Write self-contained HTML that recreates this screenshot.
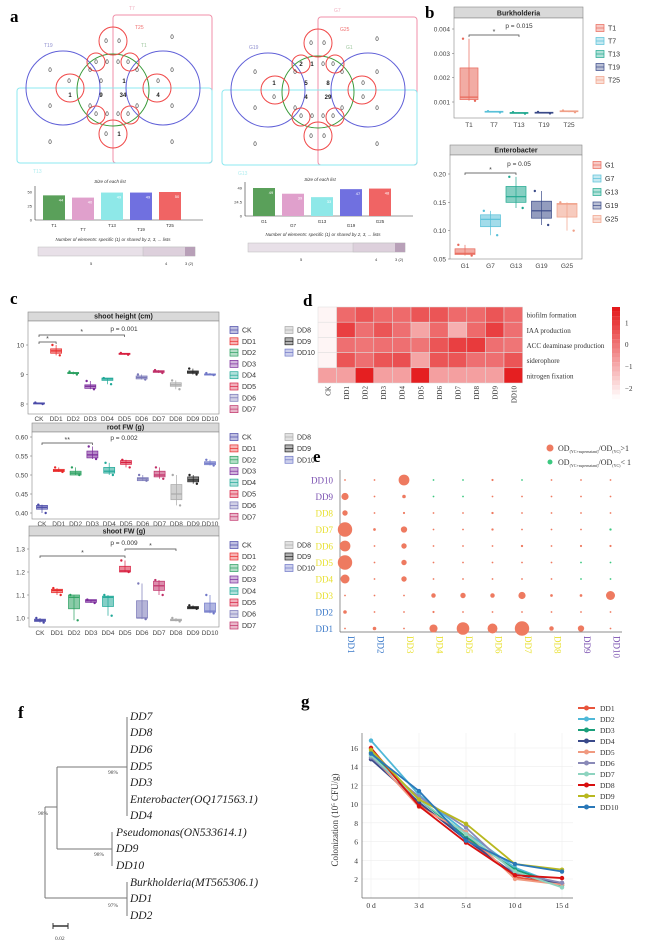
<!DOCTYPE html>
<html><head><meta charset="utf-8">
<style>
html,body{margin:0;padding:0;background:#fff;}
svg{display:block;}
.sans{font-family:"Liberation Sans",sans-serif;}
.serif{font-family:"Liberation Serif",serif;}
</style></head>
<body>
<svg id="fig" width="666" height="942" viewBox="0 0 666 942" xmlns="http://www.w3.org/2000/svg">
<g class="serif" font-weight="bold" font-size="17">
<text x="10" y="22">a</text>
<text x="425" y="18">b</text>
<text x="10" y="304">c</text>
<text x="303" y="306">d</text>
<text x="313" y="462">e</text>
<text x="18" y="718">f</text>
<text x="301" y="707">g</text>
</g>
<!-- tree panel f -->
<g stroke="#777" stroke-width="1" fill="none">
<line x1="127" y1="717" x2="127" y2="816"/>
<line x1="57" y1="767" x2="127" y2="767"/>
<line x1="112" y1="832" x2="112" y2="866"/>
<line x1="57" y1="849" x2="112" y2="849"/>
<line x1="57" y1="767" x2="57" y2="849"/>
<line x1="45" y1="807" x2="57" y2="807"/>
<line x1="127" y1="882" x2="127" y2="916"/>
<line x1="45" y1="898" x2="127" y2="898"/>
<line x1="45" y1="807" x2="45" y2="898"/>
<line x1="53" y1="926" x2="68" y2="926" stroke="#333" stroke-width="1.5"/>
<line x1="53" y1="923" x2="53" y2="929" stroke="#333"/>
<line x1="68" y1="923" x2="68" y2="929" stroke="#333"/>
</g>
<g class="serif" font-style="italic" font-size="11.5" fill="#222">
<text x="130" y="720">DD7</text><text x="130" y="736">DD8</text><text x="130" y="753">DD6</text>
<text x="130" y="770">DD5</text><text x="130" y="786">DD3</text>
<text x="130" y="803">Enterobacter(OQ171563.1)</text><text x="130" y="819">DD4</text>
<text x="116" y="836">Pseudomonas(ON533614.1)</text><text x="116" y="852">DD9</text><text x="116" y="869">DD10</text>
<text x="130" y="886">Burkholderia(MT565306.1)</text><text x="130" y="902">DD1</text><text x="130" y="919">DD2</text>
</g>
<g class="serif" font-size="5.5" fill="#444">
<text x="108" y="774">98%</text><text x="38" y="815">98%</text><text x="94" y="856">98%</text><text x="108" y="907">97%</text>
<text x="55" y="940">0.02</text>
</g>
</svg>
<script>
const NS='http://www.w3.org/2000/svg';
const svg=document.getElementById('fig');
function mk(tag,attrs,parent){const e=document.createElementNS(NS,tag);for(const k in attrs)e.setAttribute(k,attrs[k]);(parent||svg).appendChild(e);return e;}
function tx(x,y,s,attrs,parent){const e=mk('text',Object.assign({x:x,y:y},attrs||{}),parent);e.textContent=s;return e;}

// ---------- Panel a: Venn data ----------
const vennNumsT=[["0",106,41],["0",119,41],["0",96,62],["0",107,62],["0",118,62],["0",128,62],["0",90,70],["0",137,70],["0",50,70],["0",172,70],["0",69,81],["0",101,81],["1",124,81],["0",158,81],["1",70,95],["9",101,95],["34",123,95],["4",158,95],["0",50,106],["0",90,106],["0",137,106],["0",172,106],["0",96,114],["0",107,114],["0",118,114],["0",128,114],["0",106,134],["1",119,134],["0",172,37],["0",50,142],["0",172,142]];
const vennNumsG=[["0",106,41],["0",119,41],["2",96,62],["1",107,62],["0",118,62],["0",128,62],["0",90,70],["0",137,70],["0",50,70],["0",172,70],["1",69,81],["5",101,81],["8",123,81],["0",158,81],["0",69,95],["4",101,95],["29",123,95],["0",158,95],["0",50,106],["0",90,106],["0",137,106],["0",172,106],["0",96,114],["0",107,114],["0",118,114],["0",128,114],["0",106,134],["0",119,134],["0",172,37],["0",50,142],["0",172,142]];
const setLabelsT=["T7","T25","T19","T1","T13"];
const setLabelsG=["G7","G25","G19","G1","G13"];
const listSizesT=[44,40,49,49,50];
const listSizesG=[49,39,33,47,48];
const barCatsT=["T1","T7","T13","T19","T25"];
const barCatsG=["G1","G7","G13","G19","G25"];
const barColors=["#5aa05a","#e0a0cc","#8ee8e8","#7070e0","#f06464"];

function venn(dx,dy,nums,labs,name){
  const g=mk('g',{transform:`translate(${dx},${dy})`,class:'sans'});
  
  
  mk('rect',{x:113,y:15,width:99,height:148,rx:3,fill:'none',stroke:'#f08fa8','stroke-width':1},g);
  mk('rect',{x:17,y:88,width:195,height:75,rx:3,fill:'none',stroke:'#8ee8f0','stroke-width':1},g);
  mk('circle',{cx:63,cy:88,r:37,fill:'none',stroke:'#6060d8','stroke-width':1},g);
  mk('circle',{cx:163,cy:88,r:37,fill:'none',stroke:'#6060d8','stroke-width':1},g);
  mk('circle',{cx:113,cy:90,r:36,fill:'none',stroke:'#3a9a3a','stroke-width':1},g);
  [[113,41,14],[113,134,14],[70,88,14],[157,88,14],[96,62,9],[130,62,9],[96,115,9],[130,115,9]].forEach(c=>mk('circle',{cx:c[0],cy:c[1],r:c[2],fill:'none',stroke:'#f04848','stroke-width':1},g));
  nums.forEach(n=>tx(n[1],n[2]+2,n[0],{'font-size':6,'text-anchor':'middle','font-weight':n[0]!=='0'?'bold':'normal',fill:'#222'},g));
  const lp=[[129,10,'#f0b0c0'],[135,29,'#f07070'],[44,47,'#9090d0'],[141,47,'#a0c8a0'],[33,173,'#b0eef0']];
  labs.forEach((l,i)=>tx(lp[i][0],lp[i][1],l,{'font-size':5,fill:lp[i][2]},g));
}
venn(0,0,vennNumsT,setLabelsT,'venn-diagram-t');
venn(205,2,vennNumsG,setLabelsG,'venn-diagram-g');

function sizeBars(x0,base,cats,vals,maxV,ticks,name,ttlY,capY,grayY){
  const g=mk('g',{class:'sans'});
  
  
  const h=28, yS=v=>base-v/maxV*h;
  tx(x0+75,ttlY,'Size of each list',{'font-size':4.5,'font-style':'italic','text-anchor':'middle',fill:'#333'},g);
  mk('line',{x1:x0,y1:base,x2:x0+168,y2:base,stroke:'#333','stroke-width':0.6},g);
  mk('line',{x1:x0,y1:base,x2:x0,y2:base-h-6,stroke:'#333','stroke-width':0.6},g);
  ticks.forEach(t=>tx(x0-3,yS(t)+1.5,String(t),{'font-size':4,'text-anchor':'end',fill:'#333'},g));
  cats.forEach((c,i)=>{
    const bx=x0+8+i*29;
    const r=mk('rect',{x:bx,y:yS(vals[i]),width:22,height:base-yS(vals[i]),fill:barColors[i]},g);
    
    
    tx(bx+18,yS(vals[i])+6,String(vals[i]),{'font-size':4,'text-anchor':'middle',fill:'#fff'},g);
    tx(bx+11,base+7+(i%2)*4,c,{'font-size':4.5,'text-anchor':'middle',fill:'#333'},g);
  });
  tx(x0+78,capY,'Number of elements: specific (1) or shared by 2, 3, ... lists',{'font-size':4.5,'font-style':'italic','text-anchor':'middle',fill:'#333'},g);
  mk('rect',{x:x0+3,y:grayY,width:157,height:9,fill:'#e8e0e8',stroke:'#bbb','stroke-width':0.5},g);
  mk('rect',{x:x0+108,y:grayY,width:52,height:9,fill:'#ddd0dc',stroke:'#bbb','stroke-width':0.5},g);
  mk('rect',{x:x0+150,y:grayY,width:10,height:9,fill:'#b8a0b8'},g);
  tx(x0+55,grayY+18,'5',{'font-size':4,fill:'#333'},g);tx(x0+130,grayY+18,'4',{'font-size':4,fill:'#333'},g);tx(x0+150,grayY+18,'3 (2)',{'font-size':4,fill:'#333'},g);
}
sizeBars(35,220,barCatsT,listSizesT,50,[0,25,50],'list-size-chart-t',183,241,247);
sizeBars(245,216,barCatsG,listSizesG,49,[0,24.5,49],'list-size-chart-g',181,236,243);

// ---------- Box plot helper ----------
function boxPanel(o){
  const g=mk('g',{class:'sans'});
  
  
  const yS=v=>o.yTop+(o.vTop-v)/(o.vTop-o.vBot)*(o.yBot-o.yTop);
  const xS=i=>o.x0+i*o.step;
  const strip=mk('rect',{x:o.left,y:o.stripY,width:o.right-o.left,height:o.yTopPanel-o.stripY,fill:'#d9d9d9',stroke:'#888','stroke-width':0.6},g);
  tx((o.left+o.right)/2,o.yTopPanel-2.5,o.title,{'font-size':7,'font-weight':'bold','text-anchor':'middle',fill:'#222'},g);
  mk('rect',{x:o.left,y:o.yTopPanel,width:o.right-o.left,height:o.panelBot-o.yTopPanel,fill:'#fff',stroke:'#888','stroke-width':0.6},g);
  o.ticks.forEach(t=>{tx(o.left-4,yS(t)+2.5,o.tickFmt(t),{'font-size':6.5,'text-anchor':'end',fill:'#444'},g);mk('line',{x1:o.left-2,y1:yS(t),x2:o.left,y2:yS(t),stroke:'#666','stroke-width':0.5},g);});
  o.cats.forEach((c,i)=>{
    const x=xS(i),col=o.colors[i],w=o.bw;
    mk('line',{x1:x,y1:yS(o.mn[i]),x2:x,y2:yS(o.mx[i]),stroke:col,'stroke-width':0.7},g);
    const b=mk('rect',{x:x-w/2,y:yS(o.q3[i]),width:w,height:Math.max(1,yS(o.q1[i])-yS(o.q3[i])),fill:col,'fill-opacity':0.55,stroke:col,'stroke-width':0.7},g);
    
    
    mk('line',{x1:x-w/2,y1:yS(o.md[i]),x2:x+w/2,y2:yS(o.md[i]),stroke:col,'stroke-width':1.2},g);
    mk('circle',{cx:x-w/3,cy:yS(o.mx[i]),r:1.2,fill:col},g);
    mk('circle',{cx:x+w/3,cy:yS(o.mn[i]),r:1.2,fill:col},g);
    tx(x,o.labY,c,{'font-size':6.5,'text-anchor':'middle',fill:'#444'},g);
  });
  tx(o.pX,o.pY,o.p,{'font-size':6.5,'text-anchor':'middle',fill:'#333'},g);
  (o.sig||[]).forEach(s=>{const y=s[2];mk('path',{d:`M${xS(s[0])} ${y+2}V${y}H${xS(s[1])}V${y+2}`,fill:'none',stroke:'#444','stroke-width':0.7},g);tx((xS(s[0])+xS(s[1]))/2,y-1,s[3],{'font-size':7,'text-anchor':'middle',fill:'#444'},g);});
  // legend
  o.cats.forEach((c,i)=>{
    const col=i<8?0:1,row=i<8?i:i-8;
    const lx=o.legX+col*55,ly=o.legY+row*o.legStep;
    const lb=mk('rect',{x:lx,y:ly-3.5,width:8,height:7,fill:o.colors[i],'fill-opacity':0.35,stroke:o.colors[i],'stroke-width':0.7},g);
    
    
    mk('line',{x1:lx,y1:ly,x2:lx+8,y2:ly,stroke:o.colors[i],'stroke-width':0.7},g);
    tx(lx+12,ly+2.5,c,{'font-size':7,fill:'#333'},g);
  });
}

// ---------- Panel b ----------
const burkCats=["T1","T7","T13","T19","T25"];
const burkQ1=[0.0011,0.00058,0.00053,0.00054,0.0006];
const burkMed=[0.0012,0.0006,0.00055,0.00055,0.00062];
const burkQ3=[0.0024,0.00062,0.00057,0.00058,0.00064];
const burkMin=[0.00105,0.00057,0.00052,0.00053,0.00058];
const burkMax=[0.0036,0.00062,0.00058,0.00059,0.00065];
const burkTicks=[0.001,0.002,0.003,0.004];
const bColors=["#e8685a","#58c0d8","#20a890","#3a4a88","#f0a088"];
boxPanel({name:'burkholderia-boxplot',cats:burkCats,q1:burkQ1,md:burkMed,q3:burkQ3,mn:burkMin,mx:burkMax,colors:bColors,ticks:burkTicks,tickFmt:t=>t.toFixed(3),
 vTop:0.004,vBot:0.001,yTop:29,yBot:102,left:454,right:583,stripY:7,yTopPanel:18,panelBot:118,x0:469,step:25,bw:18,labY:127,title:'Burkholderia',p:'p = 0.015',pX:519,pY:28,sig:[[0,2,35,'*']],legX:596,legY:28,legStep:13});
const entCats=["G1","G7","G13","G19","G25"];
const entQ1=[0.058,0.107,0.15,0.122,0.124];
const entMed=[0.06,0.12,0.16,0.135,0.147];
const entQ3=[0.068,0.128,0.178,0.152,0.148];
const entMin=[0.056,0.092,0.14,0.11,0.10];
const entMax=[0.075,0.135,0.195,0.17,0.15];
const entTicks=[0.05,0.10,0.15,0.20];
boxPanel({name:'enterobacter-boxplot',cats:entCats,q1:entQ1,md:entMed,q3:entQ3,mn:entMin,mx:entMax,colors:bColors,ticks:entTicks,tickFmt:t=>t.toFixed(2),
 vTop:0.20,vBot:0.05,yTop:174,yBot:259,left:450,right:582,stripY:145,yTopPanel:155,panelBot:259,x0:465,step:25.5,bw:20,labY:268,title:'Enterobacter',p:'p = 0.05',pX:519,pY:166,sig:[[0,2,173,'*']],legX:593,legY:165,legStep:13.5});

// ---------- Panel c ----------
const ddCats=["CK","DD1","DD2","DD3","DD4","DD5","DD6","DD7","DD8","DD9","DD10"];
const cColors=["#4a4aa8","#e82a2a","#2aa060","#7a2a9a","#20a898","#d82040","#7a78b8","#c03068","#aaaaaa","#222222","#7078c8"];
const shQ1=[8.0,9.72,9.03,8.53,8.8,9.68,8.85,9.07,8.6,9.04,8.98];
const shMed=[8.02,9.8,9.05,8.6,8.85,9.7,8.9,9.1,8.65,9.08,9.0];
const shQ3=[8.04,9.87,9.07,8.65,8.88,9.72,8.95,9.13,8.72,9.12,9.02];
const shMin=[8.0,9.65,9.0,8.5,8.67,9.67,8.83,9.05,8.5,9.0,8.98];
const shMax=[8.05,10.0,9.1,8.78,8.88,9.73,9.0,9.15,8.8,9.2,9.05];
const shTicks=[8,9,10];
boxPanel({name:'shoot-height-boxplot',cats:ddCats,q1:shQ1,md:shMed,q3:shQ3,mn:shMin,mx:shMax,colors:cColors,ticks:shTicks,tickFmt:t=>String(t),
 vTop:10,vBot:8,yTop:345,yBot:404,left:28,right:219,stripY:312,yTopPanel:321,panelBot:414,x0:39,step:17.1,bw:11,labY:421,title:'shoot height (cm)',p:'p = 0.001',pX:124,pY:331,sig:[[0,1,342,'*'],[0,5,335,'*']],legX:230,legY:330,legStep:11.3});
const rfQ1=[0.41,0.509,0.50,0.545,0.505,0.528,0.485,0.495,0.435,0.482,0.527];
const rfMed=[0.415,0.512,0.505,0.553,0.51,0.533,0.49,0.50,0.45,0.487,0.531];
const rfQ3=[0.42,0.515,0.51,0.563,0.52,0.538,0.493,0.51,0.475,0.495,0.535];
const rfMin=[0.40,0.508,0.50,0.542,0.50,0.52,0.485,0.49,0.42,0.477,0.525];
const rfMax=[0.422,0.52,0.52,0.575,0.532,0.54,0.50,0.52,0.50,0.50,0.54];
const rfTicks=[0.40,0.45,0.50,0.55,0.60];
boxPanel({name:'root-fw-boxplot',cats:ddCats,q1:rfQ1,md:rfMed,q3:rfQ3,mn:rfMin,mx:rfMax,colors:cColors,ticks:rfTicks,tickFmt:t=>t.toFixed(2),
 vTop:0.60,vBot:0.40,yTop:437,yBot:513,left:32,right:219,stripY:423,yTopPanel:432,panelBot:519,x0:42,step:16.8,bw:11,labY:526,title:'root FW (g)',p:'p = 0.002',pX:124,pY:440,sig:[[0,3,443,'**']],legX:230,legY:437,legStep:11.4});
const sfQ1=[0.985,1.11,1.04,1.068,1.05,1.20,1.0,1.12,0.988,1.04,1.025];
const sfMed=[0.99,1.12,1.09,1.075,1.09,1.205,1.0,1.14,0.99,1.045,1.03];
const sfQ3=[0.995,1.125,1.10,1.08,1.095,1.225,1.075,1.16,0.995,1.05,1.065];
const sfMin=[0.98,1.10,0.99,1.065,1.01,1.20,0.995,1.10,0.985,1.04,1.02];
const sfMax=[1.0,1.13,1.10,1.08,1.10,1.25,1.15,1.165,1.0,1.055,1.10];
const sfTicks=[1.0,1.1,1.2,1.3];
boxPanel({name:'shoot-fw-boxplot',cats:ddCats,q1:sfQ1,md:sfMed,q3:sfQ3,mn:sfMin,mx:sfMax,colors:cColors,ticks:sfTicks,tickFmt:t=>t.toFixed(1),
 vTop:1.3,vBot:1.0,yTop:549,yBot:618,left:29,right:219,stripY:526,yTopPanel:536,panelBot:627,x0:40,step:17.0,bw:11,labY:635,title:'shoot FW (g)',p:'p = 0.009',pX:124,pY:545,sig:[[0,5,556,'*'],[5,8,549,'*']],legX:230,legY:545,legStep:11.5});

// ---------- Panel d heatmap ----------
const hmRows=["biofilm formation","IAA production","ACC deaminase production","siderophore","nitrogen fixation"];
const hmCols=["CK","DD1","DD2","DD3","DD4","DD5","DD6","DD7","DD8","DD9","DD10"];
const hmBiofilm=[-2.4,0.2,0.6,0.2,0.2,0.6,0.6,0.2,0.2,0.6,0.2];
const hmIAA=[-2.4,1.0,0.1,0.6,0.1,-0.9,0.2,-1.1,0.2,1.0,0.1];
const hmACC=[-2.4,0.1,0.0,0.1,0.1,0.0,0.6,1.0,1.1,0.1,0.0];
const hmSidero=[-2.4,0.6,0.1,0.6,0.7,-0.9,0.6,0.6,0.1,0.1,0.6];
const hmNitro=[-0.8,-0.8,1.6,-0.8,-0.8,1.6,-0.8,-0.8,-0.8,-0.8,1.6];
const hmTicks=[1,0,-1,-2];
(function(){
  const g=mk('g',{class:'serif'});
  
  
  const x0=318,y0=307,cw=18.6,ch=15.2,vMin=-2.5,vMax=1.7;
  const col=v=>{const t=Math.max(0,Math.min(1,(v-vMin)/(vMax-vMin)));const a=[255,250,250],b=[228,26,28];return `rgb(${a.map((c,i)=>Math.round(c+(b[i]-c)*t)).join(',')})`;};
  [hmBiofilm,hmIAA,hmACC,hmSidero,hmNitro].forEach((row,r)=>{
    row.forEach((v,c)=>{const e=mk('rect',{x:x0+c*cw,y:y0+r*ch,width:cw,height:ch,fill:col(v),stroke:'#ddd','stroke-width':0.5},g);
      
      });
    tx(x0+hmCols.length*cw+4,y0+r*ch+ch/2+3,hmRows[r],{'font-size':7,fill:'#333'},g);
  });
  hmCols.forEach((c,i)=>tx(0,0,c,{'font-size':7,fill:'#333','text-anchor':'end',transform:`translate(${x0+i*cw+cw/2+3},${y0+5*ch+3}) rotate(-90)`},g));
  for(let k=0;k<20;k++){const v=vMax-(vMax-vMin)*k/19;mk('rect',{x:612,y:307+k*4.6,width:8,height:4.7,fill:col(v)},g);}
  hmTicks.forEach(t=>tx(625,307+(vMax-t)/(vMax-vMin)*92+3,t<0?'\u2212'+(-t):String(t),{'font-size':7,fill:'#333'},g));
})();

// ---------- Panel e bubble ----------
const eRows=["DD10","DD9","DD8","DD7","DD6","DD5","DD4","DD3","DD2","DD1"];
const eCols=["DD1","DD2","DD3","DD4","DD5","DD6","DD7","DD8","DD9","DD10"];
// radius-like effect size; negative = ratio < 1 (green)
const eDD10=[1,1,6,-1,-1,1.2,-1,1,1,1];
const eDD9=[4,1,2,-1,-1,1,1,1,1,1];
const eDD8=[3,1,1.2,1,1,1.3,1,1,1,1];
const eDD7=[8,1.5,3.5,1,1,1.3,1,1,1,-1.3];
const eDD6=[6,1,3,1,1,1,1.3,1,1.2,1.2];
const eDD5=[8,1,3,1,1,1,1,1,-1,-1];
const eDD4=[5,1,3,1,1,1,1,1,-1,-1];
const eDD3=[1,1,1,2.5,3,2.5,4,1.5,1.5,5];
const eDD2=[2,1,1,1.2,1,1,1,1,1,1];
const eDD1=[1,2,1,4.5,7,5.5,8,2.5,3.5,1];
const eLabColors={DD1:'#3a78c8',DD2:'#3a78c8',DD3:'#e8e030',DD4:'#e8e030',DD5:'#e8e030',DD6:'#e8e030',DD7:'#e8e030',DD8:'#e8e030',DD9:'#7a50b0',DD10:'#7a50b0'};
(function(){
  const g=mk('g',{class:'serif'});
  
  
  const xS=i=>345+i*29.5, yS=j=>480+j*16.5;
  mk('line',{x1:340,y1:470,x2:340,y2:632,stroke:'#666','stroke-width':0.7},g);
  mk('line',{x1:340,y1:632,x2:622,y2:632,stroke:'#666','stroke-width':0.7},g);
  [eDD10,eDD9,eDD8,eDD7,eDD6,eDD5,eDD4,eDD3,eDD2,eDD1].forEach((row,j)=>{
    row.forEach((v,i)=>{const c=mk('circle',{cx:xS(i),cy:yS(j),r:Math.abs(v)*0.9,fill:v<0?'#3cc880':'#ee7a60'},g);
      
      });
    tx(333,yS(j)+3.5,eRows[j],{'font-size':9,'text-anchor':'end',fill:eLabColors[eRows[j]]},g);
  });
  eCols.forEach((c,i)=>tx(0,0,c,{'font-size':9,fill:eLabColors[c],transform:`translate(${xS(i)+3},${636}) rotate(90)`},g));
  mk('circle',{cx:550,cy:448,r:3.5,fill:'#ee7a60'},g);
  mk('circle',{cx:550,cy:462,r:2.5,fill:'#3cc880'},g);
  const l1=tx(558,451,'OD',{'font-size':8,fill:'#333'},g);
  const s1=mk('tspan',{'font-size':4,dy:2},l1);s1.textContent='(YC+supernatant)';
  const s2=mk('tspan',{'font-size':8,dy:-2},l1);s2.textContent='/OD';
  const s3=mk('tspan',{'font-size':4,dy:2},l1);s3.textContent='(YC)';
  const s4=mk('tspan',{'font-size':8,dy:-2},l1);s4.textContent='>1';
  const l2=tx(558,465,'OD',{'font-size':8,fill:'#333'},g);
  const t1=mk('tspan',{'font-size':4,dy:2},l2);t1.textContent='(YC+supernatant)';
  const t2=mk('tspan',{'font-size':8,dy:-2},l2);t2.textContent='/OD';
  const t3=mk('tspan',{'font-size':4,dy:2},l2);t3.textContent='(YC)';
  const t4=mk('tspan',{'font-size':8,dy:-2},l2);t4.textContent='< 1';
})();

// ---------- Panel g line chart ----------
const gDays=["0 d","3 d","5 d","10 d","15 d"];
const gSeriesNames=["DD1","DD2","DD3","DD4","DD5","DD6","DD7","DD8","DD9","DD10"];
const gDD1=[16.0,10.0,6.5,2.2,1.5];
const gDD2=[16.8,11.0,7.0,3.2,1.3];
const gDD3=[15.5,10.5,6.5,3.0,1.3];
const gDD4=[14.8,10.2,6.2,2.5,1.5];
const gDD5=[15.3,9.7,7.0,2.0,1.4];
const gDD6=[15.0,10.8,7.5,2.6,1.6];
const gDD7=[15.2,10.5,6.8,2.8,1.1];
const gDD8=[16.0,9.8,5.9,2.4,2.1];
const gDD9=[15.8,10.5,7.9,3.6,3.0];
const gDD10=[15.4,11.4,6.1,3.6,2.8];
const gTicks=[2,4,6,8,10,12,14,16];
const gColors=["#e8553c","#4fb8d8","#1a9e7a","#3a4a8a","#f09a80","#8a8ab8","#8ed4c0","#d81010","#b8b820","#2a78b8"];
(function(){
  const g=mk('g',{class:'serif'});
  
  
  const xS=i=>371+[0,48,95,144,191][i];
  const yS=v=>879-(v-2)/14*131;
  gTicks.forEach(t=>{mk('line',{x1:362,y1:yS(t),x2:573,y2:yS(t),stroke:'#eee','stroke-width':0.6},g);tx(358,yS(t)+3,String(t),{'font-size':7.5,'text-anchor':'end',fill:'#333'},g);});
  gDays.forEach((d,i)=>{mk('line',{x1:xS(i),y1:733,x2:xS(i),y2:898,stroke:'#eee','stroke-width':0.6},g);tx(xS(i),908,d,{'font-size':7.5,'text-anchor':'middle',fill:'#333'},g);});
  mk('line',{x1:362,y1:733,x2:362,y2:898,stroke:'#666','stroke-width':0.7},g);
  mk('line',{x1:362,y1:898,x2:573,y2:898,stroke:'#666','stroke-width':0.7},g);
  const ttl=tx(0,0,'Colonization (10',{'font-size':9,'text-anchor':'middle',fill:'#333',transform:'translate(338,820) rotate(-90)'},g);
  const sup=mk('tspan',{'font-size':5,dy:-3},ttl);sup.textContent='5';
  const rest=mk('tspan',{'font-size':9,dy:3},ttl);rest.textContent=' CFU/g)';
  [gDD1,gDD2,gDD3,gDD4,gDD5,gDD6,gDD7,gDD8,gDD9,gDD10].forEach((s,k)=>{
    const p=mk('polyline',{points:s.map((v,i)=>xS(i)+','+yS(v)).join(' '),fill:'none',stroke:gColors[k],'stroke-width':1.8},g);
    
    
    s.forEach((v,i)=>mk('circle',{cx:xS(i),cy:yS(v),r:2.2,fill:gColors[k]},g));
    const ly=708+k*11;
    const lg=mk('line',{x1:578,y1:ly,x2:595,y2:ly,stroke:gColors[k],'stroke-width':2},g);
    
    
    mk('circle',{cx:586.5,cy:ly,r:2.5,fill:gColors[k]},g);
    tx(600,ly+3,gSeriesNames[k],{'font-size':7.5,fill:'#333'},g);
  });
})();
</script>
</body></html>
